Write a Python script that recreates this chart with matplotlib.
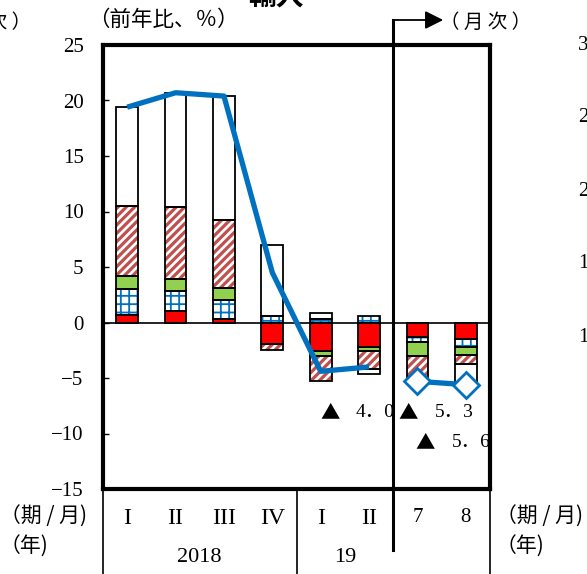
import numpy as np
import matplotlib
matplotlib.use("Agg")
import matplotlib.pyplot as plt
from matplotlib.lines import Line2D
from matplotlib.transforms import blended_transform_factory

# ---- data -------------------------------------------------------------
periods = ["I", "II", "III", "IV", "I", "II", "7", "8"]
years = ["2018", "19"]

# contributions (percentage points) by component
red_part = [0.65, 1.05, 0.30, -1.9, -2.6, -2.2, -1.35, -1.5]
grid_part = [2.35, 1.75, 1.70, 0.6, 0.3, 0.6, -0.45, -0.7]
green_part = [1.20, 1.10, 1.10, 0.0, -0.4, -0.4, -1.2, -0.7]
stripe_part = [6.30, 6.50, 6.10, -0.6, -2.3, -1.6, -2.3, -0.8]
other_part = [8.90, 10.30, 11.20, 6.4, 0.6, -0.4, 0.0, -1.9]

# total, year-on-year %
quarterly_total = [19.4, 20.7, 20.4, 4.5, -4.4, -4.0]
monthly_total = [-5.3, -5.6]

# ---- style ------------------------------------------------------------
SERIF = ["Liberation Serif", "Noto Sans CJK JP"]
JP = ["Noto Sans CJK JP", "DejaVu Sans"]
plt.rcParams["font.family"] = SERIF
plt.rcParams["axes.unicode_minus"] = True

RED = "#FF0000"
BLUE = "#0070C0"
GREEN = "#92D050"
STRIPE = "#C0504D"

W, H = 587, 574
fig = plt.figure(figsize=(W / 100, H / 100), dpi=100)
ax = fig.add_axes([103 / W, 85 / H, 387 / W, 444 / H])
ax.set_xlim(0, 8)
ax.set_ylim(-15, 25)

x = np.arange(len(periods)) + 0.5
bw = 0.45

components = [
    (red_part, dict(facecolor=RED)),
    (grid_part, dict(facecolor="white", hatch="++", hcolor=BLUE, hlw=1.3)),
    (green_part, dict(facecolor=GREEN)),
    (stripe_part, dict(facecolor="white", hatch="////", hcolor=STRIPE, hlw=2.3)),
    (other_part, dict(facecolor="white")),
]

pos_base = np.zeros(len(periods))
neg_base = np.zeros(len(periods))
for values, st in components:
    vals = np.asarray(values, dtype=float)
    bottoms = np.where(vals >= 0, pos_base, neg_base)
    mask = vals != 0
    if "hatch" in st:
        with plt.rc_context({"hatch.linewidth": st["hlw"], "hatch.color": st["hcolor"]}):
            bars = ax.bar(x[mask], vals[mask], bw, bottom=bottoms[mask],
                          facecolor=st["facecolor"], edgecolor=st["hcolor"],
                          linewidth=0, hatch=st["hatch"], zorder=2)
            for b in bars:
                if hasattr(b, "set_hatch_linewidth"):
                    b.set_hatch_linewidth(st["hlw"])
    else:
        ax.bar(x[mask], vals[mask], bw, bottom=bottoms[mask],
               facecolor=st["facecolor"], linewidth=0, zorder=2)
    ax.bar(x[mask], vals[mask], bw, bottom=bottoms[mask], facecolor="none",
           edgecolor="black", linewidth=1.3, zorder=3)
    pos_base = pos_base + np.where(vals > 0, vals, 0)
    neg_base = neg_base + np.where(vals < 0, vals, 0)

ax.axhline(0, color="black", linewidth=1.2, zorder=4)

# total lines
ax.plot(x[:6], quarterly_total, color=BLUE, linewidth=3.8, zorder=5,
        solid_capstyle="butt")
ax.plot(x[6:], monthly_total, color=BLUE, linewidth=3.8, zorder=5,
        marker="D", markersize=13, markerfacecolor="white",
        markeredgecolor=BLUE, markeredgewidth=2)

# value labels for the latest negative totals
def neg_label(xt, xn, y, v):
    ax.text(xt, y, "▲", fontsize=14, family=JP, va="center", ha="left", zorder=6)
    ax.text(xn, y, f"{abs(v):.1f}".replace(".", "．"), fontsize=14,
            family=SERIF, va="center", ha="left", zorder=6)

neg_label(4.50, 5.23, -8.15, quarterly_total[-1])
neg_label(6.11, 6.86, -8.15, monthly_total[0])
neg_label(6.46, 7.21, -10.85, monthly_total[1])

# axes styling
for side in ["left", "right", "top", "bottom"]:
    ax.spines[side].set_linewidth(3)
    ax.spines[side].set_zorder(7)
ax.set_yticks(np.arange(-15, 26, 5))
ax.tick_params(axis="y", direction="in", length=4, width=1, pad=14,
               labelsize=15, left=True, right=False)
ax.set_xticks(x)
ax.set_xticklabels(periods)
ax.tick_params(axis="x", length=0, pad=14, labelsize=17)
for lab in ax.get_xticklabels():
    if lab.get_text().isdigit():
        lab.set_fontsize(15)

# period / year rows below the plot
bt = blended_transform_factory(ax.transData, fig.transFigure)
y_axis_bottom = 85 / H
for xv in (0, 4, 8):
    fig.add_artist(Line2D([xv, xv], [0, y_axis_bottom], transform=bt,
                          color="black", linewidth=1.2))
ax.text(2, 1 - 557 / H, years[0], transform=bt, ha="center", va="center",
        fontsize=16)
ax.text(5, 1 - 557 / H, years[1], transform=bt, ha="center", va="center",
        fontsize=16)

# divider between quarterly and monthly data, with arrow
fig.add_artist(Line2D([6, 6], [1 - 550 / H, 1 - 20 / H], transform=bt,
                      color="black", linewidth=2.2, zorder=8))
tip_x = 6 + (443 - 393) / 48.375
ax.annotate("", xy=(tip_x, 1 - 20 / H), xytext=(6, 1 - 20 / H),
            xycoords=bt, textcoords=bt, annotation_clip=False,
            arrowprops=dict(arrowstyle="-|>,head_length=1.1,head_width=0.55",
                            color="black", linewidth=1.3, shrinkA=0,
                            shrinkB=0))

# header and side labels
fig.text(88 / W, 1 - 20 / H, "（前年比、％）", family=JP, fontsize=15.5,
         va="center", ha="left")
fig.text(440 / W, 1 - 22 / H, "（ 月 次 ）", family=JP, fontsize=14,
         va="center", ha="left")
fig.text(31 / W, 1 - 22 / H, "（ 月 次 ）", family=JP, fontsize=14,
         va="center", ha="right")
fig.text(276 / W, 1 - 11 / H, "輸入", family=JP, fontsize=20,
         fontweight="bold", va="bottom", ha="center")
for side_x in (0 / W, 496 / W):
    fig.text(side_x, 1 - 517 / H, "（期 / 月)", family=JP, fontsize=15,
             va="center", ha="left")
    fig.text(side_x, 1 - 547 / H, "（年)", family=JP, fontsize=15,
             va="center", ha="left")

# tick labels of the neighbouring panel on the right
for yy, lab in zip([45, 118, 191, 264, 337], ["30", "25", "20", "15", "10"]):
    fig.text(578 / W, 1 - yy / H, lab, fontsize=15, va="center", ha="left")

fig.savefig("out.png", dpi=100)
